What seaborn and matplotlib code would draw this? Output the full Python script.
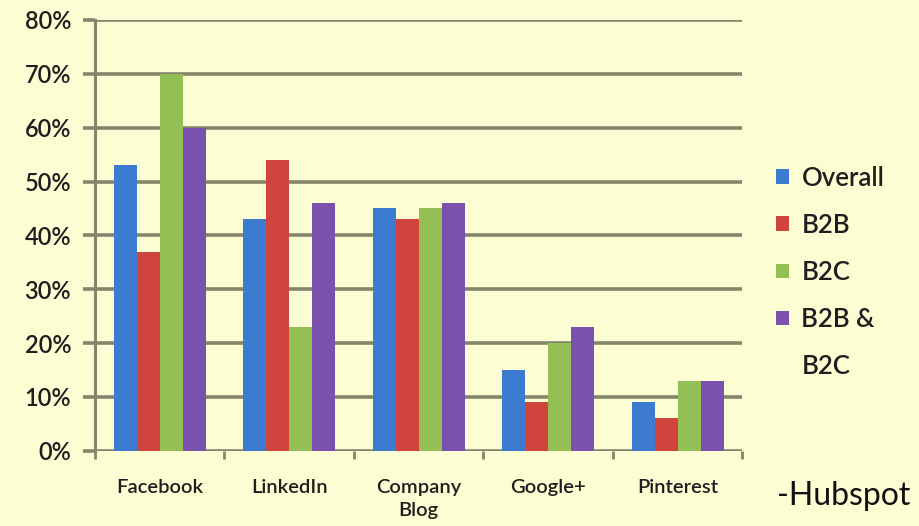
import numpy as np
import matplotlib
matplotlib.use("Agg")
import matplotlib.pyplot as plt
import pandas as pd
import seaborn as sns
from matplotlib.patches import Patch

categories = ["Facebook", "LinkedIn", "Company\nBlog", "Google+", "Pinterest"]
series = ["Overall", "B2B", "B2C", "B2B & B2C"]
overall = [53, 43, 45, 15, 9]
b2b = [37, 54, 43, 9, 6]
b2c = [70, 23, 45, 20, 13]
both = [60, 46, 46, 23, 13]
colors = ["#3c7bd0", "#d0443e", "#94bf55", "#7a52ad"]

rows = []
for name, vals in zip(series, [overall, b2b, b2c, both]):
    for cat, v in zip(categories, vals):
        rows.append({"platform": cat, "series": name, "share": v / 100})
df = pd.DataFrame(rows)

sns.set_style("white")
plt.rcParams["font.family"] = ["Lato", "DejaVu Sans"]
bg = "#fdfdd3"
grid = "#85856c"
ink = "#1e1e1e"

fig = plt.figure(figsize=(9.2, 5.26), dpi=100, facecolor=bg)
ax = fig.add_axes([0.103, 0.143, 0.704, 0.819])
ax.set_facecolor(bg)

sns.barplot(data=df, x="platform", y="share", hue="series", palette=colors,
            width=0.71, saturation=1, linewidth=0, ax=ax, legend=False)

ax.set_ylim(0, 0.8)
ax.set_xlim(-0.5, 4.5)
yt = np.arange(0, 0.81, 0.1)
ax.set_yticks(yt)
ax.set_yticklabels([f"{int(round(t * 100))}%" for t in yt], fontweight="semibold")
for lab in ax.get_xticklabels():
    lab.set_fontweight("semibold")
    lab.set_linespacing(1.45)
ax.set_axisbelow(True)
ax.yaxis.grid(True, color=grid, linewidth=2.6)
for s in ["top", "right", "bottom"]:
    ax.spines[s].set_visible(False)
ax.spines["left"].set_color(grid)
ax.spines["left"].set_linewidth(2.2)
ax.tick_params(axis="y", length=9, width=2.6, color=grid, labelsize=17,
               labelcolor=ink, pad=8, left=True)
ax.tick_params(axis="x", which="major", length=0, labelsize=14.5,
               labelcolor=ink, pad=20)
ax.set_xticks(np.arange(-0.5, 4.6, 1), minor=True)
ax.tick_params(axis="x", which="minor", length=6, width=2, color=grid, bottom=True)
ax.set_xlabel("")
ax.set_ylabel("")

# legend: second line of the last label sits as its own row, as in the source
labels = ["Overall", "B2B", "B2C", "B2B &", "B2C"]
handles = [Patch(facecolor=c, edgecolor="none") for c in colors]
handles.append(Patch(facecolor="none", edgecolor="none"))
leg = fig.legend(handles, labels, loc="center left", bbox_to_anchor=(0.818, 0.482),
                 frameon=False, fontsize=18.5, handlelength=0.5, handleheight=0.5,
                 handletextpad=0.5, labelspacing=0.86)
for t in leg.get_texts():
    t.set_color(ink)
    t.set_fontweight("semibold")

fig.text(0.845, 0.04, "-Hubspot", fontsize=23, color="#111111")

fig.savefig("out.png", dpi=100, facecolor=bg)
